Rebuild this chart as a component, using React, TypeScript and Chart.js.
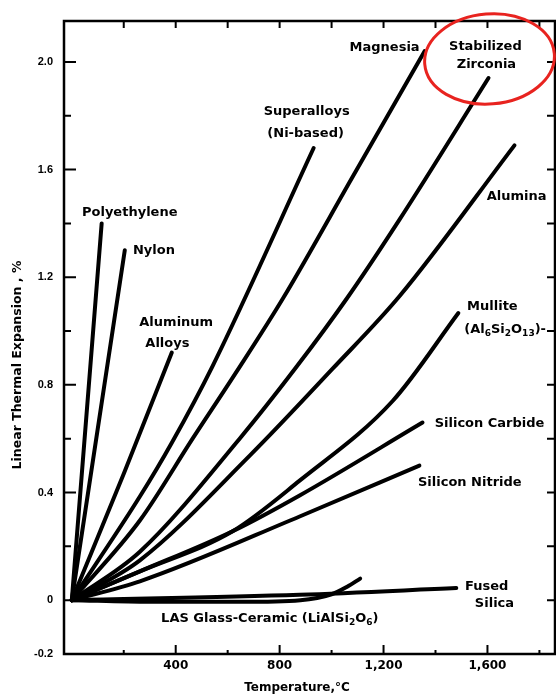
import React, { useEffect, useRef } from 'react';
import { Chart, registerables } from 'chart.js';

Chart.register(...registerables);

// ---- Data: [temperature °C, linear thermal expansion %] ----
const polyethylene = [[0, 0], [115, 1.40]];
const nylon = [[0, 0], [204, 1.30]];
const aluminumAlloys = [[0, 0], [200, 0.47], [385, 0.92]];
const superalloys = [[0, 0], [262, 0.385], [385, 0.585], [542, 0.87], [931, 1.68]];
const magnesia = [[0, 0], [262, 0.296], [465, 0.60], [635, 0.85], [812, 1.12], [1085, 1.58], [1358, 2.04]];
const zirconia = [[0, 0], [262, 0.18], [646, 0.60], [865, 0.867], [1058, 1.12], [1262, 1.415], [1604, 1.94]];
const alumina = [[0, 0], [262, 0.148], [685, 0.537], [1004, 0.86], [1262, 1.13], [1704, 1.69]];
const mullite = [[0, 0], [262, 0.107], [619, 0.256], [877, 0.444], [1235, 0.74], [1488, 1.067]];
const siliconCarbide = [[0, 0], [262, 0.107], [619, 0.256], [877, 0.389], [1350, 0.66]];
const siliconNitride = [[0, 0], [262, 0.07], [877, 0.311], [1338, 0.50]];
const fusedSilica = [[0, 0], [877, 0.02], [1480, 0.045]];
const lasGlassCeramic = [[0, 0], [300, -0.006], [650, -0.006], [880, 0.0], [1000, 0.022], [1060, 0.05], [1110, 0.08]];

const seriesList = [
  polyethylene, nylon, aluminumAlloys, superalloys, magnesia, zirconia,
  alumina, mullite, siliconCarbide, siliconNitride, fusedSilica, lasGlassCeramic,
];

// axis ticks
const xLabelTicks = [400, 800, 1200, 1600];
const xMinorTicks = [200, 600, 1000, 1400, 1800];
const xTopTicks = [200, 400, 600, 800, 1000, 1200, 1400, 1600, 1800];
const yLabelTicks = [-0.2, 0, 0.4, 0.8, 1.2, 1.6, 2.0];
const yMinorTicks = [0.2, 0.6, 1.0, 1.4, 1.8];
const yRightTicks = [0, 0.2, 0.4, 0.6, 0.8, 1.0, 1.2, 1.4, 1.6, 1.8, 2.0];

// curve labels (text, temperature, expansion)
const labelTexts = [
  'Polyethylene', 'Nylon', 'Aluminum', 'Alloys', 'Superalloys', '(Ni-based)',
  'Magnesia', 'Stabilized', 'Zirconia', 'Alumina', 'Mullite', '(Al_6Si_2O_13)-',
  'Silicon Carbide', 'Silicon Nitride', 'Fused', 'Silica', 'LAS Glass-Ceramic (LiAlSi_2O_6)',
];
const labelT = [223, 316, 402, 368, 904, 900, 1204, 1592, 1596, 1712, 1619, 1668, 1608, 1532, 1597, 1627, 762];
const labelE = [1.44, 1.30, 1.03, 0.955, 1.815, 1.733, 2.052, 2.056, 1.989, 1.50, 1.089, 1.007, 0.656, 0.437, 0.052, -0.011, -0.067];

function drawRich(ctx: CanvasRenderingContext2D, text: string, cx: number, cy: number, size: number) {
  const segs: { s: string; sub: boolean }[] = [];
  const re = /_(\d+)/g;
  let last = 0;
  let m: RegExpExecArray | null;
  while ((m = re.exec(text))) {
    if (m.index > last) segs.push({ s: text.slice(last, m.index), sub: false });
    segs.push({ s: m[1], sub: true });
    last = m.index + m[0].length;
  }
  if (last < text.length) segs.push({ s: text.slice(last), sub: false });
  const mainFont = `bold ${size}px "DejaVu Sans"`;
  const subFont = `bold ${Math.round(size * 0.72)}px "DejaVu Sans"`;
  let total = 0;
  for (const g of segs) {
    ctx.font = g.sub ? subFont : mainFont;
    total += ctx.measureText(g.s).width;
  }
  let x = cx - total / 2;
  ctx.textAlign = 'left';
  ctx.textBaseline = 'middle';
  for (const g of segs) {
    ctx.font = g.sub ? subFont : mainFont;
    ctx.fillText(g.s, x, g.sub ? cy + size * 0.32 : cy);
    x += ctx.measureText(g.s).width;
  }
}

const framePlugin = {
  id: 'frameTicks',
  afterDatasetsDraw(chart: any) {
    const { ctx, chartArea, scales } = chart;
    const { left, right, top, bottom } = chartArea;
    const x = scales.x;
    const y = scales.y;
    ctx.save();
    ctx.strokeStyle = '#000';
    ctx.lineWidth = 2.5;
    ctx.strokeRect(left, top, right - left, bottom - top);
    ctx.lineWidth = 2;
    ctx.beginPath();
    for (const v of yLabelTicks) {
      if (v <= -0.2) continue;
      const py = y.getPixelForValue(v);
      ctx.moveTo(left, py); ctx.lineTo(left + 12, py);
    }
    for (const v of yMinorTicks) {
      const py = y.getPixelForValue(v);
      ctx.moveTo(left, py); ctx.lineTo(left + 7, py);
    }
    for (const v of yRightTicks) {
      const py = y.getPixelForValue(v);
      ctx.moveTo(right, py); ctx.lineTo(right - 8, py);
    }
    for (const v of xLabelTicks) {
      const px = x.getPixelForValue(v);
      ctx.moveTo(px, bottom); ctx.lineTo(px, bottom - 9);
    }
    for (const v of xMinorTicks) {
      const px = x.getPixelForValue(v);
      ctx.moveTo(px, bottom); ctx.lineTo(px, bottom - 4);
    }
    for (const v of xTopTicks) {
      const px = x.getPixelForValue(v);
      ctx.moveTo(px, top); ctx.lineTo(px, top + 7);
    }
    ctx.stroke();

    // curve labels
    ctx.fillStyle = '#000';
    labelTexts.forEach((t, i) => {
      drawRich(ctx, t, x.getPixelForValue(labelT[i]), y.getPixelForValue(labelE[i]), 13);
    });

    // axis titles
    ctx.font = 'bold 12px "DejaVu Sans"';
    ctx.textAlign = 'center';
    ctx.textBaseline = 'middle';
    ctx.fillText('Temperature,°C', 297, 688);
    ctx.save();
    ctx.translate(18, 365);
    ctx.rotate(-Math.PI / 2);
    ctx.font = 'bold 12.5px "DejaVu Sans"';
    ctx.fillText('Linear Thermal Expansion , %', 0, 0);
    ctx.restore();

    // red highlight ellipse around Stabilized Zirconia
    ctx.strokeStyle = '#e8231f';
    ctx.lineWidth = 3;
    ctx.beginPath();
    ctx.ellipse(x.getPixelForValue(1608), y.getPixelForValue(2.011), 65, 45, -0.08, 0, Math.PI * 2);
    ctx.stroke();
    ctx.restore();
  },
};

export default function App() {
  const ref = useRef<HTMLCanvasElement>(null);
  useEffect(() => {
    document.body.style.margin = '0';
    const datasets = seriesList.map((pts) => ({
      data: pts.map(([t, e]) => ({ x: t, y: e })),
      showLine: true,
      pointRadius: 0,
      borderColor: '#000',
      backgroundColor: '#000',
      borderWidth: 4,
      borderCapStyle: 'round' as const,
      cubicInterpolationMode: 'monotone' as const,
    }));
    const chart = new Chart(ref.current!, {
      type: 'scatter',
      data: { datasets },
      options: {
        responsive: false,
        animation: false,
        layout: { padding: { top: 21, right: 1, left: 0, bottom: 0 } },
        plugins: { legend: { display: false }, tooltip: { enabled: false } },
        scales: {
          x: {
            type: 'linear',
            min: -30,
            max: 1860,
            grid: { display: false, drawTicks: false },
            border: { display: false },
            afterBuildTicks: (s: any) => { s.ticks = xLabelTicks.map((v) => ({ value: v })); },
            afterFit: (s: any) => { s.height = 42; },
            ticks: {
              padding: 5,
              color: '#000',
              maxRotation: 0,
              autoSkip: false,
              font: { family: 'DejaVu Sans', size: 12, weight: 'bold' },
              callback: (v: any) => Number(v).toLocaleString('en-US'),
            },
          },
          y: {
            type: 'linear',
            min: -0.2,
            max: 2.152,
            grid: { display: false, drawTicks: false },
            border: { display: false },
            afterBuildTicks: (s: any) => { s.ticks = yLabelTicks.map((v) => ({ value: v })); },
            afterFit: (s: any) => { s.width = 64; },
            ticks: {
              padding: 11,
              color: '#000',
              autoSkip: false,
              font: { family: 'Liberation Sans', size: 11, weight: 'bold' },
              callback: (v: any) => (Number(v) === 0 ? '0' : Number(v).toFixed(1)),
            },
          },
        },
      },
      plugins: [framePlugin],
    });
    return () => chart.destroy();
  }, []);
  return <canvas ref={ref} width={556} height={696} style={{ display: 'block' }} />;
}
